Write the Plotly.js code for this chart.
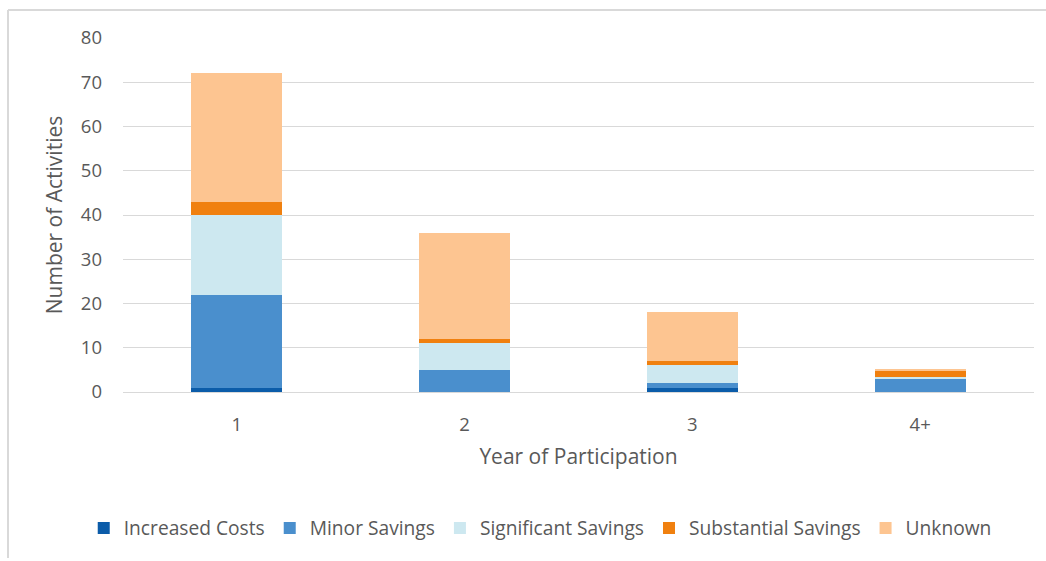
<!DOCTYPE html>
<html>
<head>
<meta charset="utf-8">
<script src="https://cdn.plot.ly/plotly-3.0.1.min.js"></script>
<style>html,body{margin:0;padding:0;background:#fff;}#chart{width:1046px;height:561px;}</style>
</head>
<body>
<div id="chart"></div>
<script>
const years = ["1", "2", "3", "4+"];
const seriesNames = ["Increased Costs", "Minor Savings", "Significant Savings", "Substantial Savings", "Unknown"];
const increasedCosts = [1, 0, 1, 0];
const minorSavings = [21, 5, 1, 3];
const significantSavings = [18, 6, 4, 0.3];
const substantialSavings = [3, 1, 1, 1.5];
const unknown = [29, 24, 11, 0.5];
const colors = ["#0b5ca9", "#4a8fcd", "#cde8f0", "#f0800f", "#fdc591"];

const values = [increasedCosts, minorSavings, significantSavings, substantialSavings, unknown];
const font = "'Open Sans', Lato, sans-serif";
const txt = "#595959";

const traces = values.map((v, i) => ({
  type: "bar",
  name: seriesNames[i],
  x: years,
  y: v,
  marker: {color: colors[i], line: {width: 0}},
  hoverinfo: "x+y+name"
}));

const layout = {
  width: 1046, height: 561,
  margin: {l: 123, r: 12, t: 38, b: 169},
  barmode: "stack",
  bargap: 0.6,
  paper_bgcolor: "#fff",
  plot_bgcolor: "#fff",
  font: {family: font, color: txt, size: 18},
  showlegend: true,
  legend: {
    orientation: "h", x: 0.458, xanchor: "center", y: -0.384, yanchor: "middle",
    font: {family: font, size: 19.2, color: txt},
    traceorder: "normal", itemwidth: 30
  },
  xaxis: {
    type: "category",
    showgrid: false, zeroline: false,
    showline: true, linecolor: "#d9d9d9", linewidth: 1,
    ticks: "", ticklabelstandoff: 16,
    tickfont: {family: font, size: 18.5, color: txt},
    title: {text: "Year of Participation", font: {family: font, size: 21, color: txt}, standoff: 14}
  },
  yaxis: {
    range: [0, 80], dtick: 10,
    showgrid: true, gridcolor: "#d9d9d9", gridwidth: 1,
    zeroline: false, showline: false,
    ticks: "", ticklabelstandoff: 20,
    tickfont: {family: font, size: 18.5, color: txt},
    title: {text: "Number of Activities", font: {family: font, size: 21, color: txt}, standoff: 12}
  },
  shapes: [
    {type: "line", xref: "paper", yref: "paper", x0: -115/911, x1: 1.02, y0: (392-10)/354, y1: (392-10)/354, line: {color: "#d9d9d9", width: 2}},
    {type: "line", xref: "paper", yref: "paper", x0: -115/911, x1: -115/911, y0: (392-10)/354, y1: (392-558)/354, line: {color: "#d9d9d9", width: 2}}
  ]
};

Plotly.newPlot("chart", traces, layout, {displayModeBar: false, staticPlot: true});
</script>
</body>
</html>
